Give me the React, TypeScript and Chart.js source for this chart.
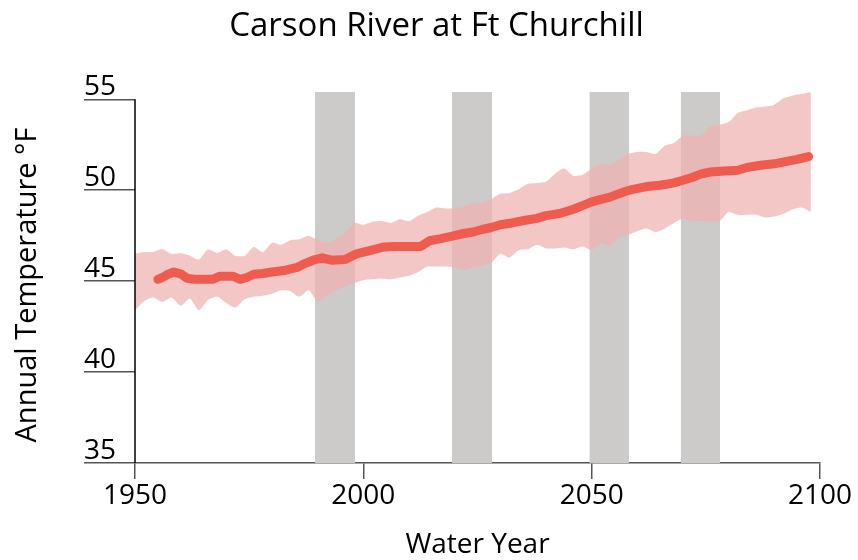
import React, { useEffect, useRef } from 'react';
import { Chart, registerables } from 'chart.js';

Chart.register(...registerables);

const TITLE = 'Carson River at Ft Churchill';
const X_TITLE = 'Water Year';
const Y_TITLE = 'Annual Temperature °F';

const X_MIN = 1950;
const X_MAX = 2100;
const X_STEP = 50;
const Y_TICKS = [35, 40, 45, 50, 55];
const Y_MIN = 35;
const Y_MAX = 55.4;

const BAND_YEARS = [
  1950, 1952, 1954, 1956, 1958, 1960, 1962, 1964, 1966, 1968,
  1970, 1972, 1974, 1976, 1978, 1980, 1982, 1984, 1986, 1988,
  1990, 1992, 1994, 1996, 1998, 2000, 2002, 2004, 2006, 2008,
  2010, 2012, 2014, 2016, 2018, 2020, 2022, 2024, 2026, 2028,
  2030, 2032, 2034, 2036, 2038, 2040, 2042, 2044, 2046, 2048,
  2050, 2052, 2054, 2056, 2058, 2060, 2062, 2064, 2066, 2068,
  2070, 2072, 2074, 2076, 2078, 2080, 2082, 2084, 2086, 2088,
  2090, 2092, 2094, 2096, 2098,
];
const BAND_UPPER = [
  46.5, 46.6, 46.6, 46.76, 46.5, 46.55, 46.4, 46.2, 46.74, 46.56,
  46.74, 46.4, 46.4, 46.88, 46.6, 47.1, 47.0, 47.25, 47.3, 47.5,
  47.25, 47.1, 47.35, 47.65, 48.2, 48.1, 48.26, 48.3, 48.2, 48.4,
  48.3, 48.6, 48.8, 49.05, 49.0, 49.0, 49.1, 49.3, 49.27, 49.5,
  49.8, 49.85, 50.05, 50.35, 50.4, 50.46, 50.9, 51.2, 50.8, 50.85,
  51.2, 51.45, 51.4, 51.7, 52.0, 52.1, 52.1, 52.0, 52.45, 52.6,
  53.0, 53.0, 53.02, 53.5, 53.6, 53.75, 54.25, 54.4, 54.55, 54.6,
  54.7, 55.05, 55.2, 55.3, 55.4,
];
const BAND_LOWER = [
  43.4, 43.9, 44.1, 43.86, 44.1, 43.65, 44.05, 43.4, 43.96, 44.14,
  43.8, 43.55, 44.0, 44.14, 44.2, 44.3, 44.5, 44.45, 44.15, 44.5,
  43.9, 44.2, 44.5, 44.7, 44.9, 45.05, 45.1, 45.15, 45.1, 45.2,
  45.3, 45.5, 45.8, 45.8, 45.8, 45.75, 45.6, 45.75, 45.85, 46.0,
  46.5, 46.3, 46.7, 46.75, 47.0, 46.8, 46.8, 46.85, 46.75, 46.9,
  46.7, 47.05, 46.95, 47.4, 47.55, 47.75, 47.9, 47.7, 47.9, 48.2,
  48.45, 48.3, 48.3, 48.25, 48.3, 48.8, 48.65, 48.65, 48.65, 48.5,
  48.55, 48.7, 48.95, 49.05, 48.8,
];

const MEAN_YEARS = [
  1955, 1956, 1957, 1958.5, 1960, 1961.5, 1963, 1965, 1967, 1968.5,
  1971.5, 1973, 1974.5, 1976, 1978, 1980, 1983, 1985.5, 1987, 1989,
  1991, 1993, 1996, 1998.5, 2000, 2002.5, 2004.5, 2007, 2012.5, 2014.5,
  2017, 2019, 2022, 2024, 2026, 2028, 2030, 2032.5, 2035.5, 2038,
  2040, 2043, 2046, 2048, 2050, 2052, 2054, 2057, 2059, 2062,
  2065, 2068, 2070, 2072, 2074, 2076, 2079, 2082, 2084, 2087,
  2090, 2093, 2095, 2097.5,
];
const MEAN_VALUES = [
  45.1, 45.2, 45.35, 45.5, 45.4, 45.15, 45.1, 45.1, 45.1, 45.27,
  45.27, 45.1, 45.2, 45.38, 45.42, 45.5, 45.6, 45.75, 45.95, 46.15,
  46.28, 46.15, 46.19, 46.5, 46.6, 46.75, 46.88, 46.9, 46.9, 47.22,
  47.34, 47.45, 47.62, 47.7, 47.84, 47.95, 48.1, 48.2, 48.35, 48.45,
  48.6, 48.72, 48.95, 49.15, 49.36, 49.5, 49.62, 49.9, 50.05, 50.2,
  50.27, 50.4, 50.55, 50.7, 50.9, 51.0, 51.05, 51.1, 51.25, 51.37,
  51.45, 51.6, 51.7, 51.85,
];

const PERIOD_STARTS = [1989.4, 2019.4, 2049.5, 2069.5];
const PERIOD_ENDS = [1998.2, 2028.2, 2058.2, 2078.1];
const PERIOD_TOP = 55.4;

const FONT = 'Open Sans';
const LINE_COLOR = 'rgb(239,91,79)';
const BAND_COLOR = 'rgba(240,177,178,0.72)';
const PERIOD_COLOR = 'rgb(204,203,201)';

const customAxes = {
  id: 'customAxes',
  afterDraw(chart: any) {
    const { ctx, chartArea, scales } = chart;
    const y = scales.y;
    const top = y.getPixelForValue(Y_TICKS[Y_TICKS.length - 1]);
    const bottom = y.getPixelForValue(Y_TICKS[0]);
    ctx.save();
    ctx.strokeStyle = '#000';
    ctx.lineWidth = 1.5;
    ctx.beginPath();
    ctx.moveTo(chartArea.left, top);
    ctx.lineTo(chartArea.left, bottom);
    ctx.stroke();
    ctx.fillStyle = '#000';
    ctx.font = `28px "${FONT}"`;
    ctx.textAlign = 'left';
    ctx.textBaseline = 'alphabetic';
    Y_TICKS.forEach((v) => {
      ctx.fillText(String(v), 84, y.getPixelForValue(v) - 4);
    });
    ctx.font = `29px "${FONT}"`;
    ctx.textAlign = 'center';
    ctx.textBaseline = 'middle';
    ctx.translate(28, 285);
    ctx.rotate(-Math.PI / 2);
    ctx.fillText(Y_TITLE, 0, 0);
    ctx.restore();
  },
};

export default function App() {
  const ref = useRef<HTMLCanvasElement | null>(null);
  useEffect(() => {
    if (!ref.current) return;
    const periodSets = PERIOD_STARTS.map((s, i) => ({
      label: 'period' + i,
      data: [
        { x: s, y: PERIOD_TOP },
        { x: PERIOD_ENDS[i], y: PERIOD_TOP },
      ],
      borderWidth: 0,
      pointRadius: 0,
      backgroundColor: PERIOD_COLOR,
      borderColor: 'transparent',
      fill: 'start',
    }));
    const chart = new Chart(ref.current, {
      type: 'line',
      data: {
        datasets: [
          {
            label: 'mean',
            data: MEAN_YEARS.map((x, i) => ({ x, y: MEAN_VALUES[i] })),
            borderColor: LINE_COLOR,
            borderWidth: 9,
            borderCapStyle: 'round',
            borderJoinStyle: 'round',
            pointRadius: 0,
            tension: 0,
            fill: false,
          },
          {
            label: 'upper',
            data: BAND_YEARS.map((x, i) => ({ x, y: BAND_UPPER[i] })),
            borderWidth: 0,
            borderColor: 'transparent',
            backgroundColor: BAND_COLOR,
            pointRadius: 0,
            tension: 0.25,
            fill: '+1',
          },
          {
            label: 'lower',
            data: BAND_YEARS.map((x, i) => ({ x, y: BAND_LOWER[i] })),
            borderWidth: 0,
            borderColor: 'transparent',
            pointRadius: 0,
            tension: 0.25,
            fill: false,
          },
          ...periodSets,
        ] as any,
      },
      options: {
        animation: false,
        responsive: false,
        devicePixelRatio: 1,
        layout: { padding: { left: 53, right: 38, top: 0, bottom: 0 } },
        plugins: {
          legend: { display: false },
          tooltip: { enabled: false },
          title: {
            display: true,
            text: TITLE,
            color: '#000',
            font: { family: FONT, size: 33, weight: 'normal', lineHeight: 1.2 },
            padding: { top: 7, bottom: 45.4 },
          },
        },
        scales: {
          x: {
            type: 'linear',
            min: X_MIN,
            max: X_MAX,
            afterFit: (s: any) => {
              s.height = 97;
            },
            ticks: {
              stepSize: X_STEP,
              color: '#000',
              padding: 0,
              maxRotation: 0,
              font: { family: FONT, size: 28 },
              callback: (v: any) => String(v),
            },
            grid: {
              drawOnChartArea: false,
              tickLength: 16,
              color: '#555',
              lineWidth: 1.5,
            },
            border: { display: true, color: '#555', width: 1.5 },
            title: {
              display: true,
              text: X_TITLE,
              color: '#000',
              font: { family: FONT, size: 28, lineHeight: 1 },
              padding: { top: 0, bottom: 1 },
            },
          },
          y: {
            type: 'linear',
            min: Y_MIN,
            max: Y_MAX,
            afterFit: (s: any) => {
              s.width = 82;
            },
            ticks: {
              stepSize: 5,
              includeBounds: false,
              display: false,
            },
            grid: {
              drawOnChartArea: false,
              tickLength: 51,
              color: '#555',
              lineWidth: 1.5,
            },
            border: { display: false },
          },
        },
      } as any,
      plugins: [customAxes],
    });
    return () => chart.destroy();
  }, []);
  return (
    <div style={{ position: 'fixed', left: 0, top: 0, width: 858, height: 560 }}>
      <canvas ref={ref} width={858} height={560} />
    </div>
  );
}
